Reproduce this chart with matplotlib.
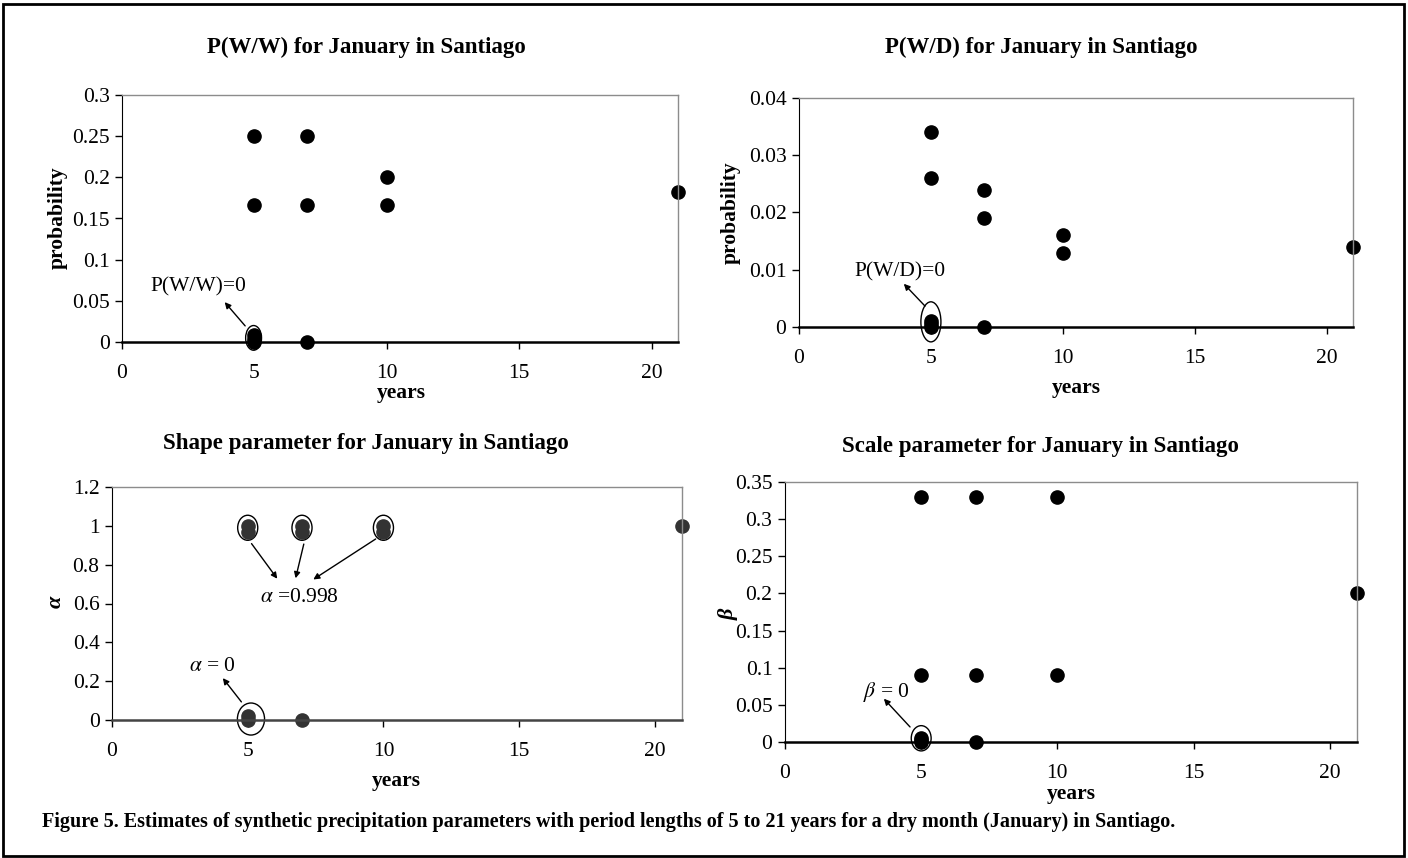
import matplotlib
matplotlib.use("Agg")
import matplotlib.pyplot as plt
from matplotlib.patches import Ellipse, Rectangle
from matplotlib.ticker import FuncFormatter, MultipleLocator

plt.rcParams["font.family"] = ["Liberation Serif", "DejaVu Serif"]
plt.rcParams["mathtext.fontset"] = "stix"

W, H = 1408, 858

# data
years = [5, 5, 5, 5, 5, 7, 7, 7, 10, 10, 21]

pww = [0.25, 0.167, 0.008, 0.004, 0.0, 0.25, 0.167, 0.0, 0.2, 0.167, 0.182]
pwd = [0.034, 0.026, 0.001, 0.0005, 0.0, 0.024, 0.019, 0.0, 0.016, 0.013, 0.014]

years_a = [5, 5, 5, 5, 7, 7, 7, 10, 10, 21]
alpha = [0.998, 0.97, 0.02, 0.0, 0.998, 0.97, 0.0, 0.998, 0.97, 1.0]

beta = [0.33, 0.09, 0.006, 0.003, 0.0, 0.33, 0.09, 0.0, 0.33, 0.09, 0.2]

fig = plt.figure(figsize=(W / 100, H / 100), dpi=100)


def px_axes(l, t, r, b):
    return fig.add_axes([l / W, 1 - b / H, (r - l) / W, (b - t) / H])


def px_text(x, y, s, **kw):
    fig.text(x / W, 1 - y / H, s, ha="center", va="center", **kw)


def style(ax, ymax, ystep, bottom_col="black"):
    ax.set_xlim(0, 21)
    ax.set_ylim(0, ymax)
    ax.xaxis.set_major_locator(MultipleLocator(5))
    ax.yaxis.set_major_locator(MultipleLocator(ystep))
    ax.yaxis.set_major_formatter(FuncFormatter(lambda v, p: "%g" % round(v, 4)))
    ax.tick_params(direction="out", length=5, width=1, labelsize=15.5,
                   top=False, right=False, pad=4)
    ax.tick_params(axis="x", pad=11)
    for s in ["top", "right"]:
        ax.spines[s].set_color("#8c8c8c")
        ax.spines[s].set_linewidth(1)
    ax.spines["left"].set_color("black")
    ax.spines["bottom"].set_color(bottom_col)
    ax.spines["bottom"].set_linewidth(1.8)


title_kw = dict(fontsize=16.5, fontweight="bold")
lab_kw = dict(fontsize=15.5, fontweight="bold")
note_kw = dict(fontsize=15.5)
arrow = dict(arrowstyle="-|>", color="black", lw=1, mutation_scale=9)

# P(W/W)
ax1 = px_axes(122, 95, 678, 342)
ax1.plot(years, pww, "o", color="black", ms=9.5, clip_on=False)
style(ax1, 0.3, 0.05)
ax1.add_patch(Ellipse((4.97, 0.005), 0.6, 0.03, fill=False, lw=1, clip_on=False))
ax1.annotate("", xy=(3.81, 0.051), xytext=(4.72, 0.017), arrowprops=arrow)
ax1.text(2.87, 0.067, "P(W/W)=0", ha="center", va="center", **note_kw)
px_text(366, 47, "P(W/W) for January in Santiago", **title_kw)
px_text(401, 393, "years", **lab_kw)
px_text(58, 218, "probability", rotation=90, **lab_kw)

# P(W/D)
ax2 = px_axes(799, 98, 1353, 327)
ax2.plot(years, pwd, "o", color="black", ms=9.5, clip_on=False)
style(ax2, 0.04, 0.01)
ax2.add_patch(Ellipse((5.0, 0.0009), 0.76, 0.007, fill=False, lw=1, clip_on=False))
ax2.annotate("", xy=(3.9, 0.0079), xytext=(4.85, 0.0033), arrowprops=arrow)
ax2.text(3.83, 0.0096, "P(W/D)=0", ha="center", va="center", **note_kw)
px_text(1041, 47, "P(W/D) for January in Santiago", **title_kw)
px_text(1076, 388, "years", **lab_kw)
px_text(731, 213, "probability", rotation=90, **lab_kw)

# shape parameter
ax3 = px_axes(112, 487, 682, 720)
ax3.plot(years_a, alpha, "o", color="#333333", ms=9.5, clip_on=False)
style(ax3, 1.2, 0.2, bottom_col="#444444")
for xc in [5, 7, 10]:
    ax3.add_patch(Ellipse((xc, 0.99), 0.74, 0.129, fill=False, lw=1, clip_on=False))
ax3.add_patch(Ellipse((5.12, 0.005), 1.0, 0.165, fill=False, lw=1, clip_on=False))
ax3.annotate("", xy=(6.15, 0.716), xytext=(5.08, 0.92), arrowprops=arrow)
ax3.annotate("", xy=(6.74, 0.716), xytext=(7.09, 0.92), arrowprops=arrow)
ax3.annotate("", xy=(7.33, 0.716), xytext=(9.8, 0.94), arrowprops=arrow)
ax3.text(6.9, 0.63, "$\\alpha$ =0.998", ha="center", va="center", **note_kw)
ax3.annotate("", xy=(4.02, 0.227), xytext=(4.83, 0.082), arrowprops=arrow)
ax3.text(3.68, 0.278, "$\\alpha$ = 0", ha="center", va="center", **note_kw)
px_text(366, 444, "Shape parameter for January in Santiago", **title_kw)
px_text(396, 781, "years", **lab_kw)
px_text(56, 602, "α", rotation=90, fontstyle="italic", fontsize=16, fontweight="bold")

# scale parameter
ax4 = px_axes(785, 482, 1357, 742)
ax4.plot(years, beta, "o", color="black", ms=9.5, clip_on=False)
style(ax4, 0.35, 0.05)
ax4.add_patch(Ellipse((5.0, 0.005), 0.73, 0.034, fill=False, lw=1, clip_on=False))
ax4.annotate("", xy=(3.56, 0.061), xytext=(4.66, 0.0175), arrowprops=arrow)
ax4.text(3.71, 0.067, "$\\beta$ = 0", ha="center", va="center", **note_kw)
px_text(1040, 447, "Scale parameter for January in Santiago", **title_kw)
px_text(1071, 794, "years", **lab_kw)
px_text(729, 614, "β", rotation=90, fontstyle="italic", fontsize=16, fontweight="bold")

fig.text(42 / W, 1 - 822 / H,
         "Figure 5. Estimates of synthetic precipitation parameters with period lengths "
         "of 5 to 21 years for a dry month (January) in Santiago.",
         ha="left", va="center", fontsize=14.5, fontweight="bold")

fig.add_artist(Rectangle((3 / W, 2 / H), 1401 / W, 852 / H, transform=fig.transFigure,
                         fill=False, lw=2, color="black"))

fig.savefig("out.png", dpi=100)
